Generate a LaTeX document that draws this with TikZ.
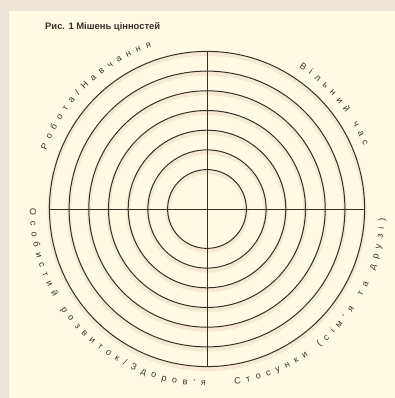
\documentclass[tikz,border=0pt]{standalone}
\usepackage{fontspec}
\setmainfont{Liberation Sans}
\newfontfamily\labfont{Liberation Sans}
\usetikzlibrary{decorations.text}
\definecolor{pagebg}{HTML}{ECE4D4}
\definecolor{panelbg}{HTML}{FFFBE3}
\definecolor{ink}{HTML}{3A3028}
\definecolor{shade}{HTML}{A87C50}
\newcommand{\lbl}{\color{ink}\labfont\fontsize{9}{9}\selectfont}
\tikzset{
  ring/.style={draw=ink, line width=1pt},
  ringshadow/.style={draw=shade, line width=4pt, opacity=0.13},
  axis/.style={draw=ink, line width=0.9pt},
  arclabel/.style={decorate, decoration={text along path, text align={fit to path}, text={#1}}},
}
\begin{document}
\begin{tikzpicture}[x=1pt,y=1pt]
  \useasboundingbox (0,0) rectangle (395,398);
  \fill[pagebg] (0,0) rectangle (395,398);
  \fill[panelbg] (9,0) rectangle (395,387);
  \node[anchor=base west, inner sep=0pt, text=ink, font=\fontsize{9.4}{10}\selectfont\bfseries] (title) at (45,368.7) {Рис. 1 Мішень цінностей};
  \coordinate (c) at (207,189);
  \foreach \r in {39.4,59.1,78.8,98.5,118.2,137.9,157.6} {
    \draw[ringshadow] ([yshift=-2.5pt]c) circle[radius=\r];
  }
  \draw[axis] ([xshift=-157.6pt]c) -- ([xshift=157.6pt]c);
  \draw[axis] ([yshift=157.6pt]c) -- ([yshift=-157.6pt]c);
  \foreach \r in {39.4,59.1,78.8,98.5,118.2,137.9,157.6} {
    \draw[ring] (c) circle[radius=\r];
  }
  \path[arclabel={|\lbl|Робота/Навчання}] ([shift={(160:171)}]c) arc[start angle=160, end angle=109, radius=171];
  \path[arclabel={|\lbl|Вільний час}] ([shift={(57:169)}]c) arc[start angle=57, end angle=22, radius=169];
  \path[arclabel={|\lbl|Особистий розвиток/Здоров’я}] ([shift={(180:177)}]c) arc[start angle=180, end angle=269.5, radius=177];
  \path[arclabel={|\lbl|Стосунки (сім’я та друзі)}] ([shift={(279:178)}]c) arc[start angle=279, end angle=357, radius=178];
\end{tikzpicture}
\end{document}
